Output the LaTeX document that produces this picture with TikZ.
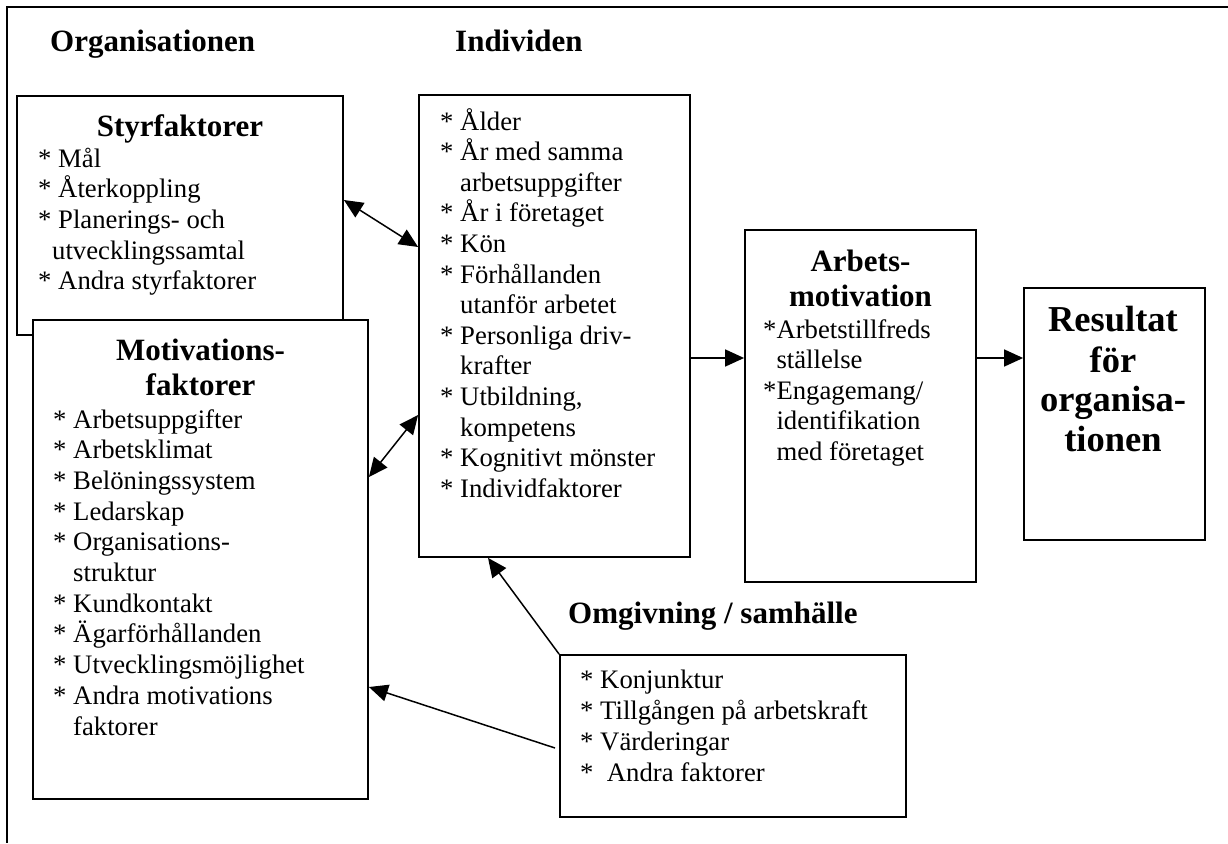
\documentclass[tikz,border=0pt]{standalone}
\usepackage{fontspec}
\setmainfont{Liberation Serif}
\usetikzlibrary{arrows.meta,fit}

% one node per text line, baselines spaced evenly
\newcommand\itemlines[5]{%
  \foreach \t [count=\i] in {#5}{%
    \node[txt, anchor=base west] (#1-\i) at (#2,{#3+(\i-1)*#4}) {\t};}}

\begin{document}
\begin{tikzpicture}[x=1pt,y=-1pt,
  box/.style={draw=black, line width=1.8pt, fill=white, inner sep=0pt},
  txt/.style={inner sep=0pt, font=\fontsize{26.7}{30.6}\selectfont},
  head/.style={inner sep=0pt, font=\bfseries\fontsize{31}{35}\selectfont},
  bighead/.style={inner sep=0pt, font=\bfseries\fontsize{36.5}{39}\selectfont},
  link/.style={line width=1.5pt, -{Triangle[length=19pt,width=17pt]}},
  duplex/.style={line width=1.5pt, {Triangle[length=19pt,width=17pt]}-{Triangle[length=19pt,width=17pt]}},
]
\useasboundingbox (0,0) rectangle (1228,843);

% frame: top and left rules only
\draw[line width=2pt] (1228,7) -- (7,7) -- (7,843);

% column titles
\node[head, anchor=base west] (torg) at (50,52) {Organisationen};
\node[head, anchor=base west] (tind) at (455,52) {Individen};

% Styrfaktorer (partly covered by the Motivationsfaktorer box)
\node[box, fit={(17,96) (343,335)}] (styr) {};
\node[head, anchor=base] (styr-h) at (180,136) {Styrfaktorer};
\itemlines{styr}{38}{167}{30.7}{* Mål, * Återkoppling, * Planerings- och,
  \hspace*{14pt}utvecklingssamtal, * Andra styrfaktorer}

% Motivationsfaktorer
\node[box, fit={(33,320) (368,799)}] (motiv) {};
\node[head, anchor=base] (motiv-h1) at (200.5,360) {Motivations-};
\node[head, anchor=base] (motiv-h2) at (200.5,395) {faktorer};
\itemlines{motiv}{53}{428}{30.7}{* Arbetsuppgifter, * Arbetsklimat,
  * Belöningssystem, * Ledarskap, * Organisations-, \phantom{* }struktur,
  * Kundkontakt, * Ägarförhållanden, * Utvecklingsmöjlighet,
  * Andra motivations, \phantom{* }faktorer}

% Individen
\node[box, fit={(419,95) (690,557)}] (indiv) {};
\itemlines{indiv}{440}{130}{30.6}{* Ålder, * År med samma,
  \phantom{* }arbetsuppgifter, * År i företaget, * Kön, * Förhållanden,
  \phantom{* }utanför arbetet, * Personliga driv-, \phantom{* }krafter,
  {* Utbildning,}, \phantom{* }kompetens, * Kognitivt mönster,
  * Individfaktorer}

% Arbetsmotivation
\node[box, fit={(745,230) (976,582)}] (arbets) {};
\node[head, anchor=base] (arbets-h1) at (860.5,271) {Arbets-};
\node[head, anchor=base] (arbets-h2) at (860.5,306) {motivation};
\itemlines{arbets}{763}{338}{30.6}{*Arbetstillfreds, \phantom{*}ställelse,
  *Engagemang/, \phantom{*}identifikation, \phantom{*}med företaget}

% Resultat för organisationen
\node[box, fit={(1024,288) (1205,540)}] (result) {};
\node[bighead, anchor=base] (result-1) at (1113,331) {Resultat};
\node[bighead, anchor=base] (result-2) at (1113,372) {för};
\node[bighead, anchor=base] (result-3) at (1113,411) {organisa-};
\node[bighead, anchor=base] (result-4) at (1113,451) {tionen};

% Omgivning / samhälle
\node[head, anchor=base west] (omg-h) at (568,623) {Omgivning / samhälle};
\node[box, fit={(560,655) (906,817)}] (omg) {};
\itemlines{omg}{580}{688}{31}{* Konjunktur, * Tillgången på arbetskraft,
  * Värderingar, *\ \ Andra faktorer}

% connectors
\coordinate (omgtail) at (555,748);
\draw[duplex] (styr.east |- 0,200) -- (indiv.west |- 0,247);
\draw[duplex] (motiv.east |- 0,477) -- (indiv.west |- 0,415);
\draw[link] (indiv.east |- 0,358) -- (arbets.west |- 0,358);
\draw[link] (arbets.east |- 0,358) -- (result.west |- 0,358);
\draw[link] (omg.north west) -- (indiv.south -| 488,0);
\draw[link] (omgtail) -- (motiv.east |- 0,687);
\end{tikzpicture}
\end{document}
